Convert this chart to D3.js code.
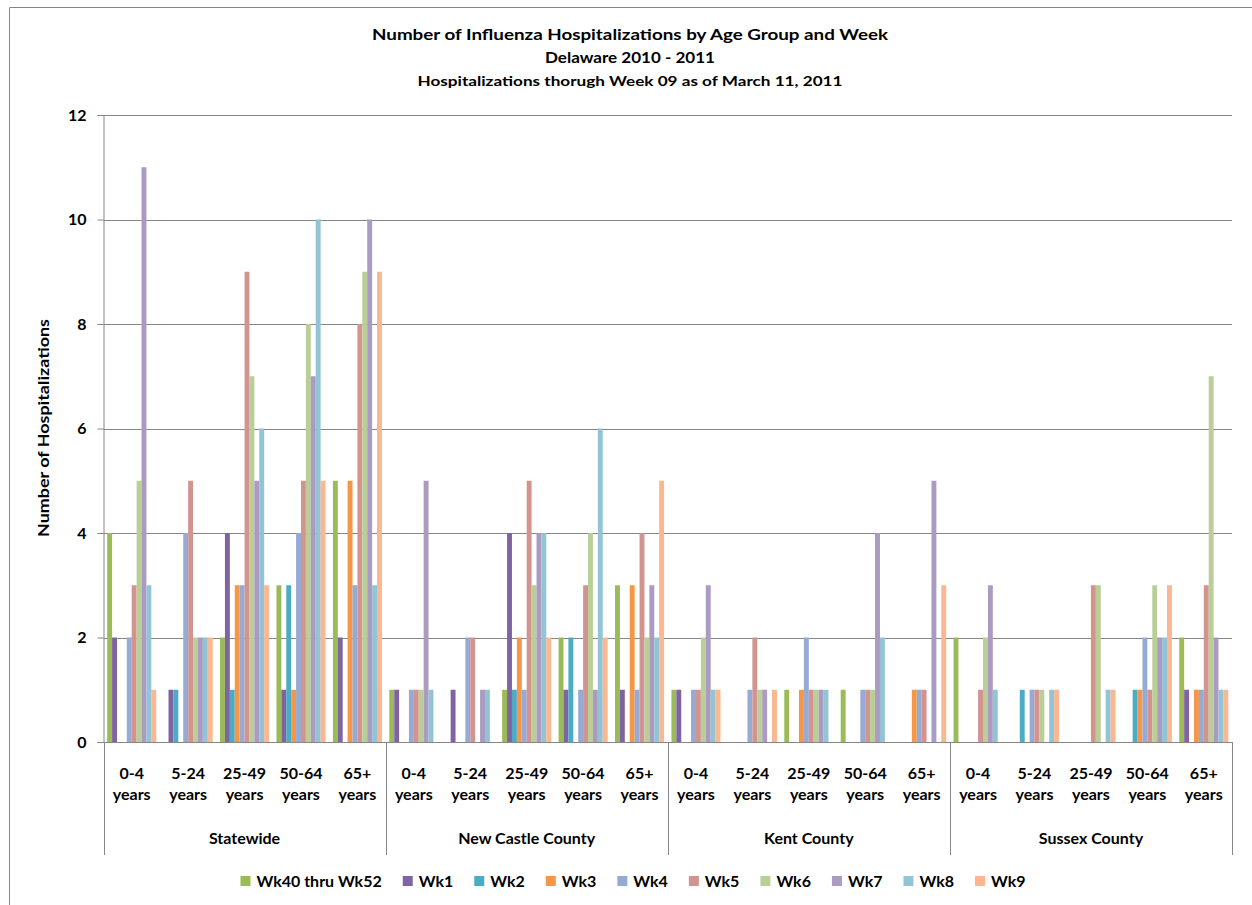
<!DOCTYPE html>
<html>
<head>
<meta charset="utf-8">
<script src="https://cdn.jsdelivr.net/npm/d3@7"></script>
<style>
  html, body { margin: 0; padding: 0; background: #fff; }
  svg { display: block; }
  text { font-family: "Lato", "Liberation Sans", sans-serif; font-weight: bold; fill: #000; }
</style>
</head>
<body>
<svg id="chart" width="1252" height="905"></svg>
<script>
// ---- data ----
const regions = ["Statewide", "New Castle County", "Kent County", "Sussex County"];
const ageGroups = ["0-4 years", "5-24 years", "25-49 years", "50-64 years", "65+ years"];
const seriesNames = ["Wk40 thru Wk52", "Wk1", "Wk2", "Wk3", "Wk4", "Wk5", "Wk6", "Wk7", "Wk8", "Wk9"];
const seriesColors = ["#9BBB59", "#8064A2", "#4BACC6", "#F79646", "#95ABD4", "#D3938F", "#BACF97", "#AB9BC3", "#92C4D6", "#FBB78F"];
// values per series: Statewide(5 ages), New Castle(5), Kent(5), Sussex(5)
const wk40_52 = [4,0,2,3,5, 1,0,1,2,3, 1,0,1,1,0, 2,0,0,0,2];
const wk1     = [2,1,4,1,2, 1,1,4,1,1, 1,0,0,0,0, 0,0,0,0,1];
const wk2     = [0,1,1,3,0, 0,0,1,2,0, 0,0,0,0,0, 0,1,0,1,0];
const wk3     = [0,0,3,1,5, 0,0,2,0,3, 0,0,1,0,1, 0,0,0,1,1];
const wk4     = [2,4,3,4,3, 1,2,1,1,1, 1,1,2,1,1, 0,1,0,2,1];
const wk5     = [3,5,9,5,8, 1,2,5,3,4, 1,2,1,1,1, 1,1,3,1,3];
const wk6     = [5,2,7,8,9, 1,0,3,4,2, 2,1,1,1,0, 2,1,3,3,7];
const wk7     = [11,2,5,7,10, 5,1,4,1,3, 3,1,1,4,5, 3,0,0,2,2];
const wk8     = [3,2,6,10,3, 1,1,4,6,2, 1,0,1,2,0, 1,1,1,2,1];
const wk9     = [1,2,3,5,9, 0,0,2,2,5, 1,1,0,0,3, 0,1,1,3,1];
const seriesValues = [wk40_52, wk1, wk2, wk3, wk4, wk5, wk6, wk7, wk8, wk9];
const yTicks = [0, 2, 4, 6, 8, 10, 12];

// ---- layout ----
const svg = d3.select("#chart");
const plot = { left: 103.5, right: 1232, top: 115, bottom: 742 };
const gray = "#868686";

// chart border (left & top visible)
svg.append("path").attr("d", "M9.5,905 L9.5,7.5 L1252,7.5")
  .attr("fill", "none").attr("stroke", gray).attr("stroke-width", 1);

const groups = [];
regions.forEach(r => ageGroups.forEach(a => groups.push(r + "|" + a)));

const x0 = d3.scaleBand().domain(groups).range([plot.left, plot.right]).padding(0);
const x1 = d3.scaleBand().domain(seriesNames).range([0, x0.bandwidth()]).paddingInner(0).paddingOuter(0.75);
const y = d3.scaleLinear().domain([0, 12]).range([plot.bottom, plot.top]);

// gridlines
svg.append("g").selectAll("line").data(yTicks.filter(t => t > 0)).join("line")
  .attr("x1", plot.left).attr("x2", plot.right)
  .attr("y1", d => Math.round(y(d)) + 0.5).attr("y2", d => Math.round(y(d)) + 0.5)
  .attr("stroke", gray).attr("stroke-width", 1);

// bars
const barG = svg.append("g");
seriesNames.forEach((s, si) => {
  barG.append("g").selectAll("rect").data(seriesValues[si]).join("rect")
    .attr("x", (d, i) => x0(groups[i]) + x1(s))
    .attr("width", x1.bandwidth())
    .attr("y", d => y(d))
    .attr("height", d => y(0) - y(d))
    .attr("fill", seriesColors[si]);
});

// y axis
const yAxis = d3.axisLeft(y).tickValues(yTicks).tickSize(6).tickPadding(11).tickFormat(d3.format("d"));
const yg = svg.append("g").attr("transform", `translate(${plot.left},0)`).call(yAxis);
yg.select(".domain").attr("stroke", gray);
yg.selectAll(".tick line").attr("stroke", gray);
yg.selectAll(".tick text").style("font-size", "16px").style("font-family", "Lato, sans-serif").style("font-weight", "bold").attr("fill", "#000");

// x axis baseline
svg.append("line").attr("x1", plot.left).attr("x2", plot.right)
  .attr("y1", plot.bottom + 0.5).attr("y2", plot.bottom + 0.5).attr("stroke", gray);

// region separators
const regionScale = d3.scaleBand().domain(regions).range([plot.left, plot.right]).padding(0);
const sepX = regions.map(r => regionScale(r)).concat([plot.right]);
svg.append("g").selectAll("line").data(sepX).join("line")
  .attr("x1", d => Math.round(d) + 0.5).attr("x2", d => Math.round(d) + 0.5)
  .attr("y1", plot.bottom).attr("y2", 855).attr("stroke", gray);

// age labels
const ageG = svg.append("g");
groups.forEach(g => {
  const age = g.split("|")[1];
  const parts = age.split(" ");
  const cx = x0(g) + x0.bandwidth() / 2;
  const t = ageG.append("text").attr("text-anchor", "middle").style("font-size", "16px");
  t.append("tspan").attr("x", cx).attr("y", 779).text(parts[0]);
  t.append("tspan").attr("x", cx).attr("y", 800).text(parts[1]);
});

// region labels
svg.append("g").selectAll("text").data(regions).join("text")
  .attr("x", d => regionScale(d) + regionScale.bandwidth() / 2)
  .attr("y", 844).attr("text-anchor", "middle").style("font-size", "16px")
  .text(d => d);

// y axis title
svg.append("text").attr("transform", "translate(49,428) rotate(-90)")
  .attr("text-anchor", "middle").style("font-size", "15px")
  .attr("textLength", 218).attr("lengthAdjust", "spacingAndGlyphs")
  .text("Number of Hospitalizations");

// titles
const titles = [
  { t: "Number of Influenza Hospitalizations by Age Group and Week", y: 40, size: 16, w: 516 },
  { t: "Delaware 2010 - 2011", y: 63, size: 16, w: 170 },
  { t: "Hospitalizations thorugh Week 09 as of March 11, 2011", y: 86, size: 13.5, w: 425 }
];
titles.forEach(d => {
  svg.append("text").attr("x", 630).attr("y", d.y).attr("text-anchor", "middle")
    .style("font-size", d.size + "px")
    .attr("textLength", d.w).attr("lengthAdjust", "spacingAndGlyphs")
    .text(d.t);
});

// legend
const legend = svg.append("g");
let lx = 0;
seriesNames.forEach((s, i) => {
  const g = legend.append("g");
  g.append("rect").attr("x", 0).attr("y", -5).attr("width", 10).attr("height", 10).attr("fill", seriesColors[i]);
  const t = g.append("text").attr("x", 16).attr("y", 6).style("font-size", "16px").text(s);
  const w = 16 + t.node().getComputedTextLength();
  g.attr("transform", `translate(${lx},0)`);
  lx += w + 21;
});
const totalW = lx - 21;
legend.attr("transform", `translate(${633 - totalW / 2},881)`);
</script>
</body>
</html>
